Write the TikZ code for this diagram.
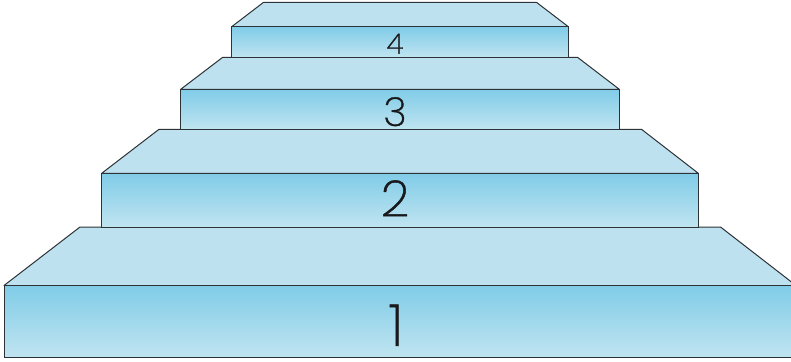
\documentclass[tikz,border=0pt]{standalone}
\usepackage{fontspec}
\newfontfamily\digfont{Poppins ExtraLight}[FakeBold=1]
\definecolor{topface}{RGB}{189,225,238}
\definecolor{fronttop}{RGB}{128,204,232}
\definecolor{frontbot}{RGB}{192,228,240}
\definecolor{edgecol}{RGB}{45,50,55}
\definecolor{digcol}{RGB}{25,25,28}
\begin{document}
\begin{tikzpicture}[x=1pt,y=-1pt,
  topstyle/.style={fill=topface,draw=edgecol,line width=1pt,line join=round},
  frontstyle/.style={top color=fronttop,bottom color=frontbot,draw=edgecol,line width=1pt},
  lbl/.style={font=\digfont,text=digcol,inner sep=0pt,anchor=center}]
\useasboundingbox (0,0) rectangle (791,361);
% step 1
\draw[topstyle] (80,227) -- (720.5,227) -- (796,285.5) -- (4,285.5) -- cycle;
\draw[frontstyle] (4,285.5) rectangle (796,357);
% step 2
\draw[topstyle] (159,129.3) -- (641.5,129.3) -- (698.3,173.3) -- (101.7,173.3) -- cycle;
\draw[frontstyle] (101.7,173.3) rectangle (698.3,227);
% step 3
\draw[topstyle] (222.7,57.3) -- (577.5,57.3) -- (619.3,89.3) -- (180.7,89.3) -- cycle;
\draw[frontstyle] (180.7,89.3) rectangle (619.3,129.3);
% step 4
\draw[topstyle] (263.3,2.5) -- (536.7,2.5) -- (568.3,26.7) -- (231.7,26.7) -- cycle;
\draw[frontstyle] (231.7,26.7) rectangle (568.3,57.3);
% labels
\node[lbl,font=\digfont\fontsize{58}{58}\selectfont] (l1) at (396,325.3) {1};
\node[lbl,font=\digfont\fontsize{50}{50}\selectfont] (l2) at (395,198.3) {2};
\node[lbl,font=\digfont\fontsize{40}{40}\selectfont] (l3) at (395,111.7) {3};
\node[lbl,font=\digfont\fontsize{28}{28}\selectfont] (l4) at (395,43.8) {4};
\end{tikzpicture}
\end{document}
